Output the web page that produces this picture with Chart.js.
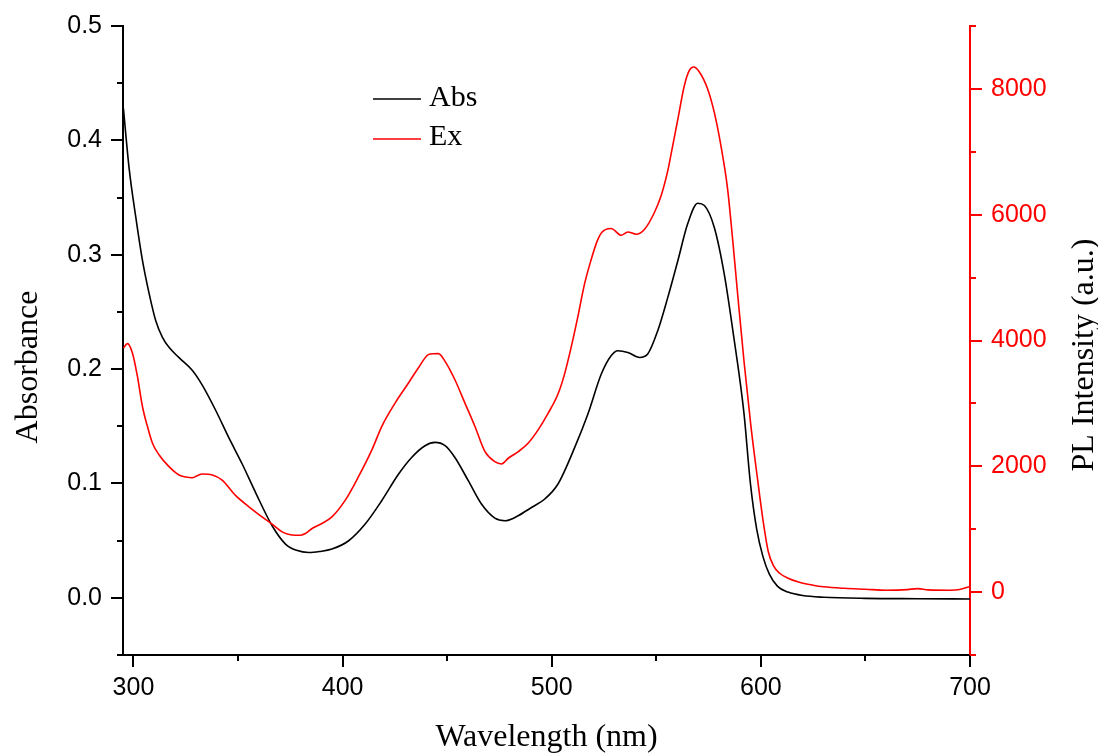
<!DOCTYPE html>
<html><head><meta charset="utf-8">
<script src="https://cdn.jsdelivr.net/npm/chart.js@4.4.1/dist/chart.umd.min.js"></script>
<style>html,body{margin:0;padding:0;background:#fff}#wrap{width:1098px;height:755px;position:relative}</style>
</head><body><div id="wrap"><canvas id="c" width="1098" height="755"></canvas></div>
<script>
// ---- data ----
const absWavelength = [295.2, 297.9, 301.1, 304.3, 307.5, 310.7, 313.8, 317.0, 321.8, 328.1, 332.9, 339.3, 345.6, 352.0, 358.4, 366.3, 372.7, 378.0, 383.8, 389.0, 394.9, 402.9, 410.8, 418.7, 426.7, 433.0, 439.4, 444.2, 449.0, 453.7, 460.1, 466.4, 472.8, 477.6, 483.9, 490.3, 496.7, 503.0, 511.0, 517.3, 523.7, 528.4, 531.6, 536.4, 542.0, 545.9, 550.7, 555.5, 560.3, 565.0, 569.8, 573.0, 577.7, 582.5, 587.3, 590.0, 592.0, 595.0, 598.0, 601.0, 604.0, 608.0, 613.0, 620.0, 630.0, 650.0, 675.0, 700.0];
const absValues = [0.428, 0.376, 0.333, 0.295, 0.266, 0.242, 0.228, 0.219, 0.210, 0.199, 0.186, 0.164, 0.140, 0.117, 0.092, 0.063, 0.047, 0.0415, 0.0396, 0.0405, 0.0426, 0.0499, 0.0645, 0.0849, 0.108, 0.1227, 0.133, 0.1359, 0.133, 0.1227, 0.1024, 0.082, 0.0697, 0.0674, 0.0717, 0.079, 0.0864, 0.0995, 0.1315, 0.1607, 0.1957, 0.2117, 0.2161, 0.2146, 0.2102, 0.2132, 0.2336, 0.2627, 0.2948, 0.327, 0.345, 0.343, 0.324, 0.283, 0.2249, 0.19, 0.16, 0.10, 0.06, 0.036, 0.021, 0.010, 0.005, 0.002, 0.0005, -0.0005, -0.0008, -0.001];

const exWavelength = [295.2, 297.1, 299.5, 301.9, 304.3, 306.7, 309.1, 312.3, 317.0, 321.8, 325.0, 328.1, 330.5, 332.9, 337.7, 342.4, 348.8, 355.2, 361.5, 366.3, 371.1, 374.0, 377.4, 380.0, 382.2, 385.4, 390.1, 394.9, 401.3, 407.6, 414.0, 418.7, 425.1, 431.5, 436.2, 441.0, 443.5, 445.8, 449.0, 453.7, 458.5, 463.3, 468.1, 472.8, 476.0, 479.2, 484.0, 488.7, 493.5, 498.3, 503.0, 506.0, 509.0, 512.5, 515.7, 518.9, 521.5, 524.0, 528.4, 533.2, 536.4, 540.4, 544.4, 549.1, 552.3, 555.5, 557.0, 560.2, 563.4, 565.8, 567.9, 570.6, 574.5, 577.7, 580.9, 584.1, 586.5, 589.0, 592.0, 595.2, 598.4, 601.0, 603.5, 606.0, 609.0, 613.0, 618.0, 625.0, 630.0, 640.0, 650.0, 660.0, 670.0, 675.0, 680.0, 690.0, 695.0, 700.0];
const exValues = [3880, 3950, 3802, 3429, 2951, 2632, 2367, 2180, 1994, 1861, 1830, 1818, 1850, 1877, 1861, 1782, 1537, 1356, 1196, 1080, 957, 920, 904, 905, 931, 1011, 1091, 1196, 1462, 1834, 2260, 2632, 3005, 3324, 3563, 3775, 3790, 3791, 3668, 3376, 3005, 2632, 2233, 2073, 2037, 2128, 2233, 2367, 2579, 2845, 3150, 3450, 3850, 4380, 4900, 5290, 5560, 5720, 5780, 5673, 5726, 5689, 5769, 6035, 6300, 6700, 6950, 7500, 8050, 8293, 8347, 8268, 8002, 7630, 7097, 6407, 5609, 4700, 3650, 2650, 1800, 1150, 650, 420, 300, 220, 160, 110, 85, 60, 45, 30, 40, 55, 35, 30, 40, 90];

const xTickValues = [300, 350, 400, 450, 500, 550, 600, 650, 700];
const xTickLabels = ['300', '', '400', '', '500', '', '600', '', '700'];
const yTickValues = [-0.05, 0, 0.05, 0.1, 0.15, 0.2, 0.25, 0.3, 0.35, 0.4, 0.45, 0.5];
const yTickLabels = ['', '0.0', '', '0.1', '', '0.2', '', '0.3', '', '0.4', '', '0.5'];
const y2TickValues = [-1000, 0, 1000, 2000, 3000, 4000, 5000, 6000, 7000, 8000, 9000];
const y2TickLabels = ['', '0', '', '2000', '', '4000', '', '6000', '', '8000', ''];

const seriesNames = ['Abs', 'Ex'];
const xTitle = 'Wavelength (nm)';
const yTitle = 'Absorbance';
const y2Title = 'PL Intensity (a.u.)';

// ---- chart ----
const RED = '#ff0000';
const setTicks = vals => scale => { scale.ticks = vals.map(v => ({ value: v })); };

const axisDecor = {
  id: 'axisDecor',
  afterDraw(chart) {
    const ctx = chart.ctx, a = chart.chartArea;
    const sx = chart.scales.x, sy = chart.scales.y, sy2 = chart.scales.y2;
    ctx.save();
    ctx.lineWidth = 2;
    ctx.strokeStyle = '#000';
    xTickValues.forEach((v, i) => {
      const p = Math.round(sx.getPixelForValue(v));
      const len = xTickLabels[i] ? 12 : 6;
      ctx.beginPath(); ctx.moveTo(p, a.bottom); ctx.lineTo(p, a.bottom + len); ctx.stroke();
    });
    yTickValues.forEach((v, i) => {
      const p = Math.round(sy.getPixelForValue(v));
      const len = yTickLabels[i] ? 12 : 6;
      ctx.beginPath(); ctx.moveTo(a.left, p); ctx.lineTo(a.left - len, p); ctx.stroke();
    });
    ctx.strokeStyle = RED;
    y2TickValues.forEach((v, i) => {
      const p = Math.round(sy2.getPixelForValue(v));
      const len = y2TickLabels[i] ? 12 : 6;
      ctx.beginPath(); ctx.moveTo(a.right, p); ctx.lineTo(a.right + len, p); ctx.stroke();
    });
    // axis titles
    ctx.font = '32px "Liberation Serif", "Times New Roman", serif';
    ctx.textAlign = 'center';
    ctx.textBaseline = 'alphabetic';
    ctx.fillStyle = '#000';
    ctx.fillText(xTitle, (a.left + a.right) / 2, 746);
    ctx.save(); ctx.translate(37, 367); ctx.rotate(-Math.PI / 2); ctx.fillText(yTitle, 0, 0); ctx.restore();
    ctx.save(); ctx.translate(1093, 355); ctx.rotate(-Math.PI / 2); ctx.fillText(y2Title, 0, 0); ctx.restore();
    // legend
    ctx.lineWidth = 1.5;
    ctx.strokeStyle = '#000';
    ctx.beginPath(); ctx.moveTo(373, 99); ctx.lineTo(421, 99); ctx.stroke();
    ctx.strokeStyle = RED;
    ctx.beginPath(); ctx.moveTo(373, 139); ctx.lineTo(421, 139); ctx.stroke();
    ctx.font = '30px "Liberation Serif", "Times New Roman", serif';
    ctx.textAlign = 'left';
    ctx.fillStyle = '#000';
    ctx.fillText(seriesNames[0], 429, 106);
    ctx.fillText(seriesNames[1], 429, 145);
    ctx.restore();
  }
};

new Chart(document.getElementById('c'), {
  type: 'line',
  data: {
    datasets: [
      {
        label: seriesNames[0],
        data: absWavelength.map((x, i) => ({ x, y: absValues[i] })),
        yAxisID: 'y',
        borderColor: '#000',
        borderWidth: 1.6,
        pointRadius: 0,
        cubicInterpolationMode: 'monotone',
        fill: false,
        order: 2
      },
      {
        label: seriesNames[1],
        data: exWavelength.map((x, i) => ({ x, y: exValues[i] })),
        yAxisID: 'y2',
        borderColor: RED,
        borderWidth: 1.6,
        pointRadius: 0,
        cubicInterpolationMode: 'monotone',
        fill: false,
        order: 1
      }
    ]
  },
  options: {
    responsive: false,
    devicePixelRatio: 1,
    animation: false,
    events: [],
    layout: { padding: { top: 26, left: 0, right: 0, bottom: 0 } },
    plugins: { legend: { display: false }, tooltip: { enabled: false }, title: { display: false } },
    scales: {
      x: {
        type: 'linear', position: 'bottom', min: 295, max: 700,
        afterBuildTicks: setTicks(xTickValues),
        afterFit: s => { s.height = 100; },
        grid: { display: true, drawOnChartArea: false, drawTicks: true, tickLength: 12, tickColor: 'rgba(0,0,0,0)' },
        border: { display: true, color: '#000', width: 2 },
        ticks: { autoSkip: false, maxRotation: 0, padding: 6, color: '#000',
          font: { family: '"Liberation Sans", Arial, sans-serif', size: 25 },
          callback: (v, i) => xTickLabels[i] }
      },
      y: {
        type: 'linear', position: 'left', min: -0.05, max: 0.5,
        afterBuildTicks: setTicks(yTickValues),
        afterFit: s => { s.width = 123; },
        grid: { display: true, drawOnChartArea: false, drawTicks: true, tickLength: 12, tickColor: 'rgba(0,0,0,0)' },
        border: { display: true, color: '#000', width: 2 },
        ticks: { autoSkip: false, padding: 9, color: '#000',
          font: { family: '"Liberation Sans", Arial, sans-serif', size: 25 },
          callback: (v, i) => yTickLabels[i] }
      },
      y2: {
        type: 'linear', position: 'right', min: -1000, max: 9000,
        afterBuildTicks: setTicks(y2TickValues),
        afterFit: s => { s.width = 128; },
        grid: { display: true, drawOnChartArea: false, drawTicks: true, tickLength: 12, tickColor: 'rgba(0,0,0,0)' },
        border: { display: true, color: RED, width: 2 },
        ticks: { autoSkip: false, padding: 9, color: RED,
          font: { family: '"Liberation Sans", Arial, sans-serif', size: 25 },
          callback: (v, i) => y2TickLabels[i] }
      }
    }
  },
  plugins: [axisDecor]
});
</script>
</body></html>
